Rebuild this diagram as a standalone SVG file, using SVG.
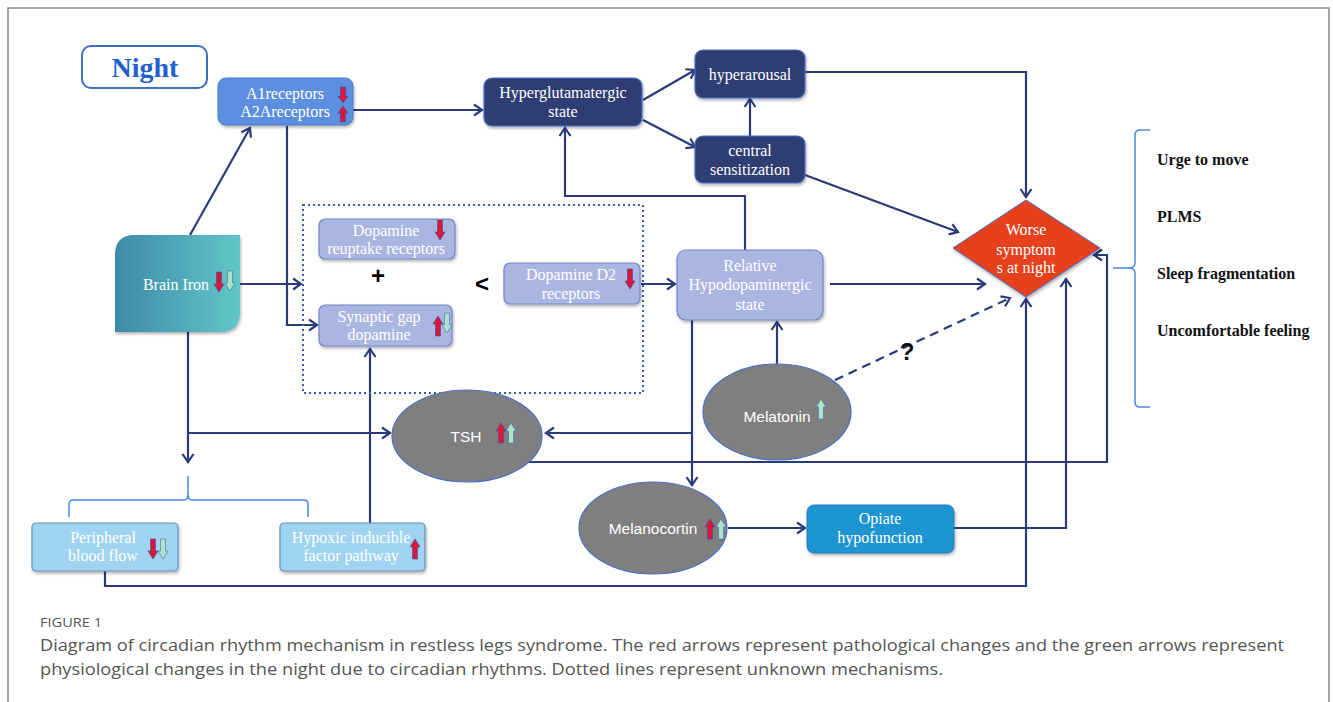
<svg xmlns="http://www.w3.org/2000/svg" xmlns:xlink="http://www.w3.org/1999/xlink" width="1333" height="702" viewBox="0 0 1333 702">
<style>
.ln{fill:none;stroke:#2b3b7a;stroke-width:2.2}
.bx{font-family:"Liberation Serif",serif;font-size:16px;fill:#fff;text-anchor:middle}
.sans{font-family:"Liberation Sans",Arial,sans-serif;font-size:15.5px;fill:#fff;text-anchor:middle}
.rt{font-family:"Liberation Serif",serif;font-size:16px;font-weight:bold;fill:#111}
.dark{fill:#2f3e72;stroke:#4a6cc8;stroke-width:1.2}
.lav{fill:#aab5e0;stroke:#7285c8;stroke-width:1.2}
.lb{fill:#9fd3ef;stroke:#6c8fc0;stroke-width:1.2}
.ell{fill:#7f7f7f;stroke:#4a6cc8;stroke-width:1.2}
.red{fill:#d8173a;stroke:#3a4fa0;stroke-width:0.6}
.grn{fill:#aee3c9;stroke:#3a6fb0;stroke-width:0.6}
.cap{font-family:"Open Sans","Liberation Sans",sans-serif;fill:#555}
</style>
<defs>
<marker id="ah" markerWidth="14" markerHeight="14" refX="11" refY="7" orient="auto" markerUnits="userSpaceOnUse">
<path d="M3,1.5 L11,7 L3,12.5" fill="none" stroke="#2b3b7a" stroke-width="2.2"/>
</marker>
<path id="dn" d="M-2.5,0 H2.5 V12 H5 L0,20 L-5,12 H-2.5 Z"/>
<path id="up" d="M-2.5,20 H2.5 V8 H5 L0,0 L-5,8 H-2.5 Z"/>
<path id="dns" d="M-2.5,0 H2.5 V9 H5 L0,16 L-5,9 H-2.5 Z"/>
<path id="ups" d="M-2.5,16 H2.5 V7 H5 L0,0 L-5,7 H-2.5 Z"/>
<linearGradient id="ironG" x1="0" y1="0" x2="1" y2="0">
<stop offset="0" stop-color="#3d8aa8"/>
<stop offset="1" stop-color="#62c6c8"/>
</linearGradient>
<filter id="sh" x="-10%" y="-10%" width="130%" height="140%">
<feDropShadow dx="1" dy="2" stdDeviation="1.5" flood-color="#000" flood-opacity="0.3"/>
</filter>
</defs>
<rect width="1333" height="702" fill="#fff"/>
<path d="M8,702 V8 H1329 V702" fill="none" stroke="#888" stroke-width="1.5"/>

<g id="connectors">
<path class="ln" d="M190,235 L250,128" marker-end="url(#ah)"/>
<path class="ln" d="M353,110 H482" marker-end="url(#ah)"/>
<path class="ln" d="M287,126 V325 H317" marker-end="url(#ah)"/>
<path class="ln" d="M240,284 H301" marker-end="url(#ah)"/>
<path class="ln" d="M643,100 L695,70" marker-end="url(#ah)"/>
<path class="ln" d="M643,120 L695,147" marker-end="url(#ah)"/>
<path class="ln" d="M750,136 V99" marker-end="url(#ah)"/>
<path class="ln" d="M805,72 H1026 V197" marker-end="url(#ah)"/>
<path class="ln" d="M805,175 L958,232" marker-end="url(#ah)"/>
<path class="ln" d="M745,250 V196 H565 V128" marker-end="url(#ah)"/>
<path class="ln" d="M641,284 H675" marker-end="url(#ah)"/>
<path class="ln" d="M830,284 H985" marker-end="url(#ah)"/>
<path class="ln" d="M777,364 V322" marker-end="url(#ah)"/>
<path class="ln" d="M835,380 L1010,298" stroke-dasharray="9,6" marker-end="url(#ah)"/>
<path class="ln" d="M692,320 V485" marker-end="url(#ah)"/>
<path class="ln" d="M692,433 H546" marker-end="url(#ah)"/>
<path class="ln" d="M188,332 V462" marker-end="url(#ah)"/>
<path class="ln" d="M188,433 H390" marker-end="url(#ah)"/>
<path class="ln" d="M370,523 V349" marker-end="url(#ah)"/>
<path class="ln" d="M523,462 H1107 V255 H1094" marker-end="url(#ah)"/>
<path class="ln" d="M728,528 H805" marker-end="url(#ah)"/>
<path class="ln" d="M954,528 H1066 V279" marker-end="url(#ah)"/>
<path class="ln" d="M105,571 V586 H1026 V299" marker-end="url(#ah)"/>
</g>

<g id="night">
<rect x="82" y="46" width="125" height="42" rx="9" fill="#fff" stroke="#3b6fc0" stroke-width="2"/>
<text x="145" y="77" font-family="Liberation Serif,serif" font-size="28" font-weight="bold" fill="#1f5fcf" text-anchor="middle">Night</text>
</g>

<g id="a1">
<rect x="218" y="78" width="135" height="47" rx="8" fill="#5b8fe0" stroke="#4a78c8" stroke-width="1" filter="url(#sh)"/>
<text class="bx" x="285" y="99">A1receptors</text>
<text class="bx" x="285" y="117">A2Areceptors</text>
<use href="#dns" class="red" x="343" y="87"/>
<use href="#ups" class="red" x="343" y="106"/>
</g>

<g id="hyperglut">
<rect x="484" y="78" width="158" height="48" rx="8" class="dark" filter="url(#sh)"/>
<text class="bx" x="563" y="98">Hyperglutamatergic</text>
<text class="bx" x="563" y="117">state</text>
</g>

<g id="hyperarousal">
<rect x="695" y="50" width="110" height="48" rx="8" class="dark" filter="url(#sh)"/>
<text class="bx" x="750" y="80">hyperarousal</text>
</g>

<g id="central">
<rect x="695" y="136" width="110" height="47" rx="8" class="dark" filter="url(#sh)"/>
<text class="bx" x="750" y="156">central</text>
<text class="bx" x="750" y="175">sensitization</text>
</g>

<g id="worse">
<polygon points="1026,200 1100,248 1026,297 953,248" fill="#e6411c" stroke="#4a6cc8" stroke-width="1" filter="url(#sh)"/>
<text class="bx" x="1026" y="235">Worse</text>
<text class="bx" x="1026" y="255">symptom</text>
<text class="bx" x="1026" y="273">s at night</text>
</g>

<g id="symptoms">
<path d="M1150,130 H1140 Q1135,130 1135,135 V263 Q1135,268 1128,268 H1113 M1128,268 Q1135,268 1135,273 V402 Q1135,407 1140,407 H1150" fill="none" stroke="#4a8ae0" stroke-width="1.5"/>
<text class="rt" x="1157" y="165">Urge to move</text>
<text class="rt" x="1157" y="222">PLMS</text>
<text class="rt" x="1157" y="279">Sleep fragmentation</text>
<text class="rt" x="1157" y="336">Uncomfortable feeling</text>
</g>

<g id="brainiron">
<path d="M135,235 H240 V312 Q240,332 220,332 H115 V255 Q115,235 135,235 Z" fill="url(#ironG)" filter="url(#sh)"/>
<text class="bx" x="176" y="290" font-size="17">Brain Iron</text>
<use href="#dn" class="red" x="219" y="272"/>
<use href="#dn" class="grn" x="230" y="271"/>
</g>

<g id="dopaminebox">
<rect x="303" y="205" width="340" height="188" fill="none" stroke="#3b5fb0" stroke-width="2" stroke-dasharray="2,3"/>
<text x="378" y="284" font-family="Liberation Sans,sans-serif" font-size="24" font-weight="bold" fill="#000" text-anchor="middle">+</text>
<text x="482" y="292" font-family="Liberation Sans,sans-serif" font-size="24" font-weight="bold" fill="#000" text-anchor="middle">&lt;</text>
</g>

<g id="reuptake">
<rect x="319" y="219" width="136" height="40" rx="6" class="lav" filter="url(#sh)"/>
<text class="bx" x="386" y="236">Dopamine</text>
<text class="bx" x="386" y="254">reuptake receptors</text>
<use href="#dn" class="red" x="440" y="220"/>
</g>

<g id="synaptic">
<rect x="319" y="305" width="133" height="41" rx="6" class="lav" filter="url(#sh)"/>
<text class="bx" x="379" y="322">Synaptic gap</text>
<text class="bx" x="379" y="340">dopamine</text>
<use href="#up" class="red" x="438" y="316"/>
<use href="#dn" class="grn" x="447" y="313"/>
</g>

<g id="d2">
<rect x="504" y="263" width="136" height="41" rx="6" class="lav" filter="url(#sh)"/>
<text class="bx" x="571" y="280">Dopamine D2</text>
<text class="bx" x="571" y="299">receptors</text>
<use href="#dn" class="red" x="630" y="269"/>
</g>

<g id="relhypo">
<rect x="677" y="250" width="146" height="70" rx="9" class="lav" filter="url(#sh)"/>
<text class="bx" x="750" y="271">Relative</text>
<text class="bx" x="750" y="290">Hypodopaminergic</text>
<text class="bx" x="750" y="310">state</text>
</g>

<g id="question">
<text x="907" y="360" font-family="Liberation Sans,sans-serif" font-size="24" font-weight="bold" fill="#111" text-anchor="middle">?</text>
</g>

<g id="tsh">
<ellipse cx="467" cy="436" rx="75" ry="46" class="ell"/>
<text class="sans" x="466" y="442">TSH</text>
<use href="#up" class="red" x="501" y="423"/>
<use href="#up" class="grn" x="511" y="423"/>
</g>

<g id="melatonin">
<ellipse cx="777" cy="412" rx="74" ry="48" class="ell"/>
<text class="sans" x="777" y="422">Melatonin</text>
<use href="#up" class="grn" x="821" y="399"/>
</g>

<g id="melanocortin">
<ellipse cx="653" cy="528" rx="74" ry="46" class="ell"/>
<text class="sans" x="653" y="534">Melanocortin</text>
<use href="#up" class="red" x="710" y="519"/>
<use href="#up" class="grn" x="721" y="519"/>
</g>

<g id="opiate">
<rect x="807" y="505" width="147" height="48" rx="7" fill="#1e95d2" stroke="#2a78b8" stroke-width="1" filter="url(#sh)"/>
<text class="bx" x="880" y="524">Opiate</text>
<text class="bx" x="880" y="543">hypofunction</text>
</g>

<g id="brace2">
<path d="M69,517 V504 Q69,500 73,500 H184 Q188,500 188,494 V476 M188,494 Q188,500 192,500 H304 Q308,500 308,504 V517" fill="none" stroke="#4a8ae0" stroke-width="1.5"/>
</g>

<g id="peripheral">
<rect x="32" y="523" width="146" height="48" rx="4" class="lb" filter="url(#sh)"/>
<text class="bx" x="103" y="543">Peripheral</text>
<text class="bx" x="103" y="561">blood flow</text>
<use href="#dn" class="red" x="153" y="539"/>
<use href="#dn" class="grn" x="163" y="539"/>
</g>

<g id="hypoxic">
<rect x="280" y="523" width="145" height="48" rx="4" class="lb" filter="url(#sh)"/>
<text class="bx" x="351" y="543">Hypoxic inducible</text>
<text class="bx" x="351" y="561">factor pathway</text>
<use href="#up" class="red" x="415" y="539"/>
</g>

<g id="caption">
<text class="cap" x="40" y="627" font-size="13" textLength="62" lengthAdjust="spacingAndGlyphs">FIGURE 1</text>
<text class="cap" x="40" y="651" font-size="17" textLength="1244" lengthAdjust="spacingAndGlyphs">Diagram of circadian rhythm mechanism in restless legs syndrome. The red arrows represent pathological changes and the green arrows represent</text>
<text class="cap" x="40" y="675" font-size="17" textLength="903" lengthAdjust="spacingAndGlyphs">physiological changes in the night due to circadian rhythms. Dotted lines represent unknown mechanisms.</text>
</g>
</svg>
